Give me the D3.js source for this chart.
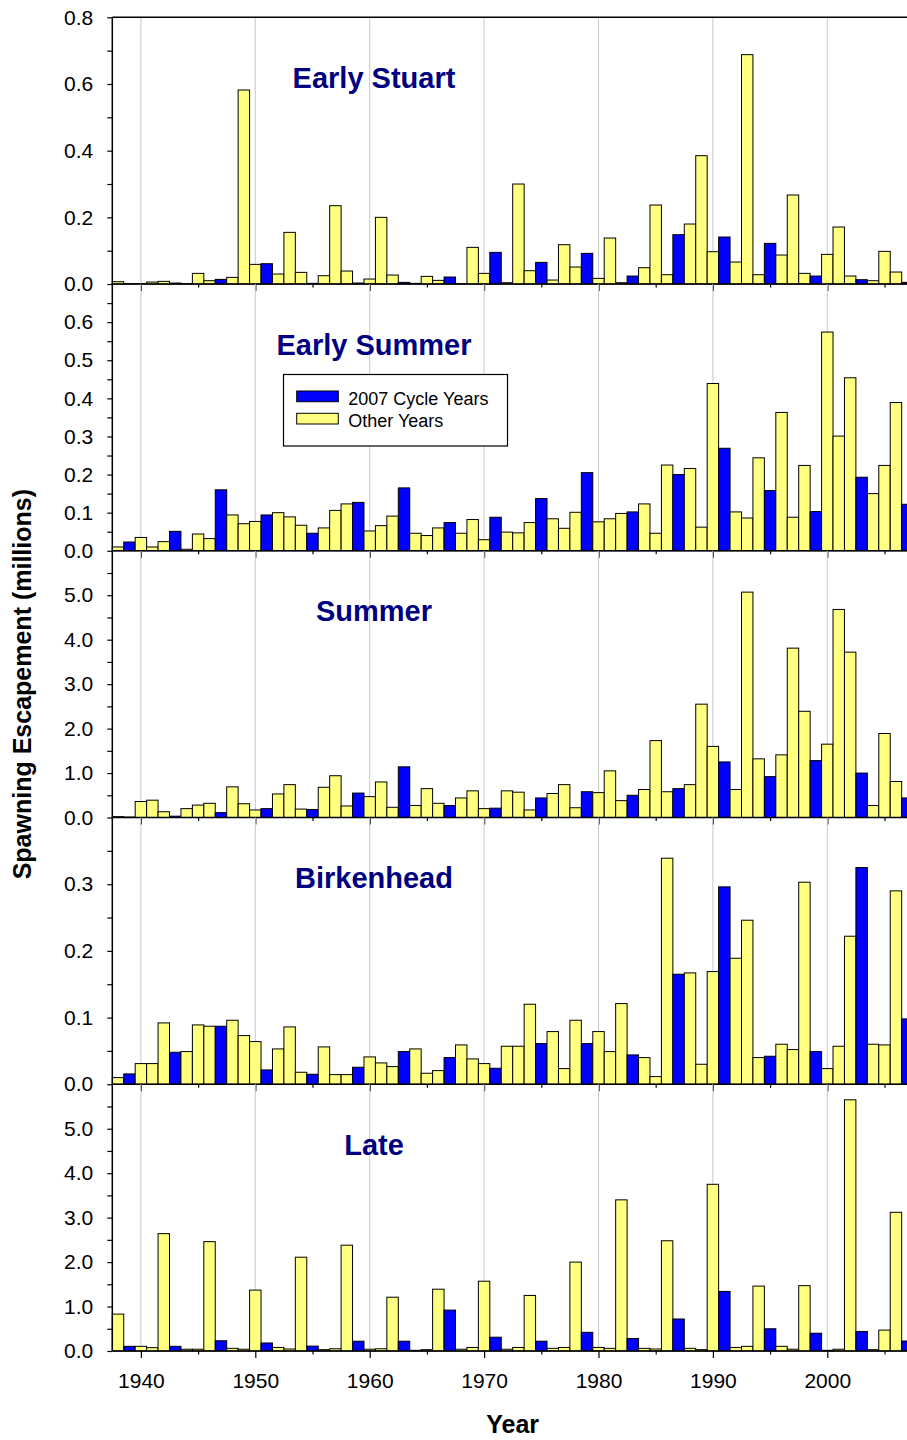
<!DOCTYPE html>
<html>
<head>
<meta charset="utf-8">
<script src="https://cdn.jsdelivr.net/npm/d3@7"></script>
<style>
	body { margin: 0; background: #fff; }
	svg { display: block; font-family: Arial, 'Liberation Sans', sans-serif; }
	.tick text { font-family: Arial, 'Liberation Sans', sans-serif; font-size: 21px; fill: #000; }
</style>
</head>
<body>
<div id="app"></div>
<script>

// years shown, 1938 .. 2007 (2007 cycle = every 4th year back from 2007)
const years = d3.range(1938, 2008);

// spawning escapement, millions
const earlyStuart = [
	0.007, 0.001, 0.001, 0.006, 0.008, 0.003, 0.001, 0.032, 0.010, 0.014,
	0.020, 0.582, 0.059, 0.061, 0.030, 0.155, 0.035, 0.002, 0.025, 0.235,
	0.039, 0.003, 0.015, 0.200, 0.027, 0.005, 0.002, 0.023, 0.011, 0.021,
	0.001, 0.110, 0.032, 0.095, 0.004, 0.300, 0.040, 0.065, 0.012, 0.118,
	0.051, 0.092, 0.017, 0.138, 0.004, 0.024, 0.049, 0.237, 0.028, 0.148,
	0.180, 0.385, 0.097, 0.141, 0.066, 0.688, 0.028, 0.122, 0.087, 0.267,
	0.032, 0.024, 0.089, 0.171, 0.024, 0.013, 0.010, 0.098, 0.036, 0.005
];
const earlySummer = [
	0.010, 0.023, 0.035, 0.010, 0.024, 0.051, 0.004, 0.044, 0.032, 0.160,
	0.094, 0.071, 0.077, 0.094, 0.100, 0.089, 0.067, 0.046, 0.060, 0.106,
	0.123, 0.127, 0.052, 0.066, 0.091, 0.165, 0.046, 0.040, 0.060, 0.074,
	0.046, 0.082, 0.029, 0.088, 0.049, 0.047, 0.074, 0.137, 0.084, 0.059,
	0.101, 0.205, 0.076, 0.084, 0.098, 0.102, 0.123, 0.046, 0.225, 0.200,
	0.216, 0.062, 0.439, 0.269, 0.102, 0.086, 0.244, 0.158, 0.363, 0.088,
	0.224, 0.103, 0.574, 0.301, 0.454, 0.193, 0.150, 0.224, 0.389, 0.122
];
const summer = [
	0.02, 0.01, 0.36, 0.39, 0.13, 0.03, 0.20, 0.28, 0.32, 0.11,
	0.69, 0.31, 0.17, 0.20, 0.53, 0.74, 0.19, 0.18, 0.68, 0.94,
	0.26, 0.55, 0.47, 0.80, 0.23, 1.14, 0.27, 0.65, 0.32, 0.27,
	0.44, 0.60, 0.20, 0.21, 0.60, 0.57, 0.17, 0.44, 0.54, 0.74,
	0.22, 0.58, 0.56, 1.05, 0.38, 0.50, 0.63, 1.73, 0.58, 0.65,
	0.74, 2.55, 1.60, 1.25, 0.63, 5.07, 1.32, 0.92, 1.41, 3.81,
	2.39, 1.28, 1.65, 4.68, 3.72, 1.00, 0.27, 1.89, 0.81, 0.44
];
const birkenhead = [
	0.010, 0.0155, 0.031, 0.031, 0.092, 0.048, 0.049, 0.089, 0.087, 0.087,
	0.096, 0.073, 0.064, 0.0215, 0.053, 0.086, 0.018, 0.015, 0.056, 0.0145,
	0.0145, 0.0255, 0.041, 0.032, 0.0265, 0.049, 0.053, 0.0165, 0.0205, 0.040,
	0.059, 0.038, 0.031, 0.024, 0.057, 0.057, 0.120, 0.061, 0.079, 0.0235,
	0.096, 0.061, 0.079, 0.049, 0.121, 0.044, 0.040, 0.0115, 0.339, 0.165,
	0.167, 0.030, 0.169, 0.296, 0.189, 0.246, 0.040, 0.042, 0.060, 0.052,
	0.303, 0.049, 0.0235, 0.057, 0.222, 0.325, 0.060, 0.059, 0.290, 0.098
];
const late = [
	0.83, 0.105, 0.105, 0.075, 2.64, 0.105, 0.04, 0.04, 2.46, 0.23,
	0.06, 0.04, 1.37, 0.18, 0.08, 0.045, 2.11, 0.11, 0.03, 0.05,
	2.38, 0.22, 0.04, 0.05, 1.21, 0.22, 0.015, 0.03, 1.39, 0.92,
	0.04, 0.08, 1.57, 0.31, 0.04, 0.08, 1.25, 0.22, 0.06, 0.08,
	2.00, 0.42, 0.08, 0.06, 3.40, 0.28, 0.06, 0.045, 2.48, 0.72,
	0.06, 0.03, 3.75, 1.34, 0.08, 0.105, 1.46, 0.50, 0.105, 0.04,
	1.47, 0.40, 0.015, 0.04, 5.65, 0.44, 0.03, 0.47, 3.12, 0.225
];

const panelTitles = ['Early Stuart', 'Early Summer', 'Summer', 'Birkenhead', 'Late'];
const panelSeries = [earlyStuart, earlySummer, summer, birkenhead, late];
const panelMax = [0.8, 0.7, 6.0, 0.4, 6.0];

// y tick labels and minor ticks per panel
const labelTicks = [
	[0, 0.2, 0.4, 0.6, 0.8],
	[0, 0.1, 0.2, 0.3, 0.4, 0.5, 0.6],
	[0, 1, 2, 3, 4, 5],
	[0, 0.1, 0.2, 0.3],
	[0, 1, 2, 3, 4, 5]
];
const minorTicks = [
	[0.1, 0.3, 0.5, 0.7],
	[0.05, 0.15, 0.25, 0.35, 0.45, 0.55, 0.65],
	[0.5, 1.5, 2.5, 3.5, 4.5, 5.5],
	[0.05, 0.15, 0.25, 0.35],
	[0.5, 1.5, 2.5, 3.5, 4.5, 5.5]
];
const decadeTicks = [1940, 1950, 1960, 1970, 1980, 1990, 2000];
const halfDecadeTicks = [1945, 1955, 1965, 1975, 1985, 1995, 2005];

const legendLabels = ['2007 Cycle Years', 'Other Years'];

const BLUE = '#0000ff',
	YELLOW = '#ffff80',
	NAVY = '#000080';

function init () {

	const width = 907,
		height = 1440,
		plotLeft = 112.3,
		plotRight = 913.1,
		plotTop = 17.3,
		panelH = 266.74;

	const svg = d3.select('#app').append('svg')
		.attr('width', width)
		.attr('height', height);

	const x = d3.scaleLinear()
		.domain([1937.5, 2007.5])
		.range([plotLeft, plotRight]);

	const isCycle = yr => (2007 - yr) % 4 === 0;

	panelSeries.forEach((series, i) => {
		const top = plotTop + i * panelH,
			bottom = top + panelH;

		const y = d3.scaleLinear()
			.domain([0, panelMax[i]])
			.range([bottom, top]);

		const g = svg.append('g');

		// decade gridlines
		g.selectAll('line.grid')
			.data(decadeTicks)
			.enter().append('line')
				.attr('x1', d => x(d))
				.attr('x2', d => x(d))
				.attr('y1', top)
				.attr('y2', bottom)
				.attr('stroke', '#c8c8c8')
				.attr('stroke-width', 1);

		g.selectAll('rect.bar')
			.data(years.map((yr, j) => ({ yr, v: series[j] })))
			.enter().append('rect')
				.attr('x', d => x(d.yr - 0.5))
				.attr('width', x(1) - x(0))
				.attr('y', d => y(d.v))
				.attr('height', d => y(0) - y(d.v))
				.attr('fill', d => isCycle(d.yr) ? BLUE : YELLOW)
				.attr('stroke', '#000')
				.attr('stroke-width', 1);

		// y axis, labelled + minor ticks
		g.append('g')
			.attr('transform', `translate(${ plotLeft },0)`)
			.call(d3.axisLeft(y)
				.tickValues(labelTicks[i])
				.tickSize(5)
				.tickPadding(14)
				.tickFormat(d3.format('.1f')));
		g.append('g')
			.attr('transform', `translate(${ plotLeft },0)`)
			.call(d3.axisLeft(y)
				.tickValues(minorTicks[i])
				.tickSize(5)
				.tickFormat(''));

		// x ticks at the bottom of every panel, labels only on the last
		g.append('g')
			.attr('transform', `translate(0,${ bottom })`)
			.call(d3.axisBottom(x)
				.tickValues(decadeTicks)
				.tickSize(7)
				.tickPadding(15)
				.tickFormat(i === panelSeries.length - 1 ? d3.format('d') : ''));
		g.append('g')
			.attr('transform', `translate(0,${ bottom })`)
			.call(d3.axisBottom(x)
				.tickValues(halfDecadeTicks)
				.tickSize(3.5)
				.tickFormat(''));

		g.selectAll('.domain').remove();
		g.selectAll('.tick line').attr('stroke', '#000').attr('stroke-width', 1.2);

		g.append('line')
			.attr('x1', plotLeft)
			.attr('x2', plotRight)
			.attr('y1', bottom)
			.attr('y2', bottom)
			.attr('stroke', '#000')
			.attr('stroke-width', 1.5);

		g.append('text')
			.attr('x', 374)
			.attr('y', top + 70.5)
			.attr('text-anchor', 'middle')
			.attr('font-size', 29)
			.attr('font-weight', 'bold')
			.attr('fill', NAVY)
			.text(panelTitles[i]);
	});

	// frame: top + left
	svg.append('line')
		.attr('x1', plotLeft).attr('x2', plotRight)
		.attr('y1', plotTop).attr('y2', plotTop)
		.attr('stroke', '#000').attr('stroke-width', 1.5);
	svg.append('line')
		.attr('x1', plotLeft).attr('x2', plotLeft)
		.attr('y1', plotTop).attr('y2', plotTop + 5 * panelH)
		.attr('stroke', '#000').attr('stroke-width', 1.5);

	// legend inside the Early Summer panel
	const legend = svg.append('g');
	legend.append('rect')
		.attr('x', 283.5)
		.attr('y', 374.5)
		.attr('width', 224)
		.attr('height', 71.5)
		.attr('fill', '#fff')
		.attr('stroke', '#000')
		.attr('stroke-width', 1.2);
	legendLabels.forEach((label, k) => {
		legend.append('rect')
			.attr('x', 296.7)
			.attr('y', 391 + k * 22.3)
			.attr('width', 41.6)
			.attr('height', 10.7)
			.attr('fill', k === 0 ? BLUE : YELLOW)
			.attr('stroke', '#000')
			.attr('stroke-width', 1);
		legend.append('text')
			.attr('x', 348.3)
			.attr('y', 405 + k * 22.3)
			.attr('font-size', 18)
			.attr('fill', '#000')
			.text(label);
	});

	// axis titles
	svg.append('text')
		.attr('transform', `translate(31,${ plotTop + 2.5 * panelH }) rotate(-90)`)
		.attr('text-anchor', 'middle')
		.attr('font-size', 25)
		.attr('font-weight', 'bold')
		.text('Spawning Escapement (millions)');

	svg.append('text')
		.attr('x', x(1972.5))
		.attr('y', 1433)
		.attr('text-anchor', 'middle')
		.attr('font-size', 25)
		.attr('font-weight', 'bold')
		.text('Year');
}

init();
</script>
</body>
</html>
